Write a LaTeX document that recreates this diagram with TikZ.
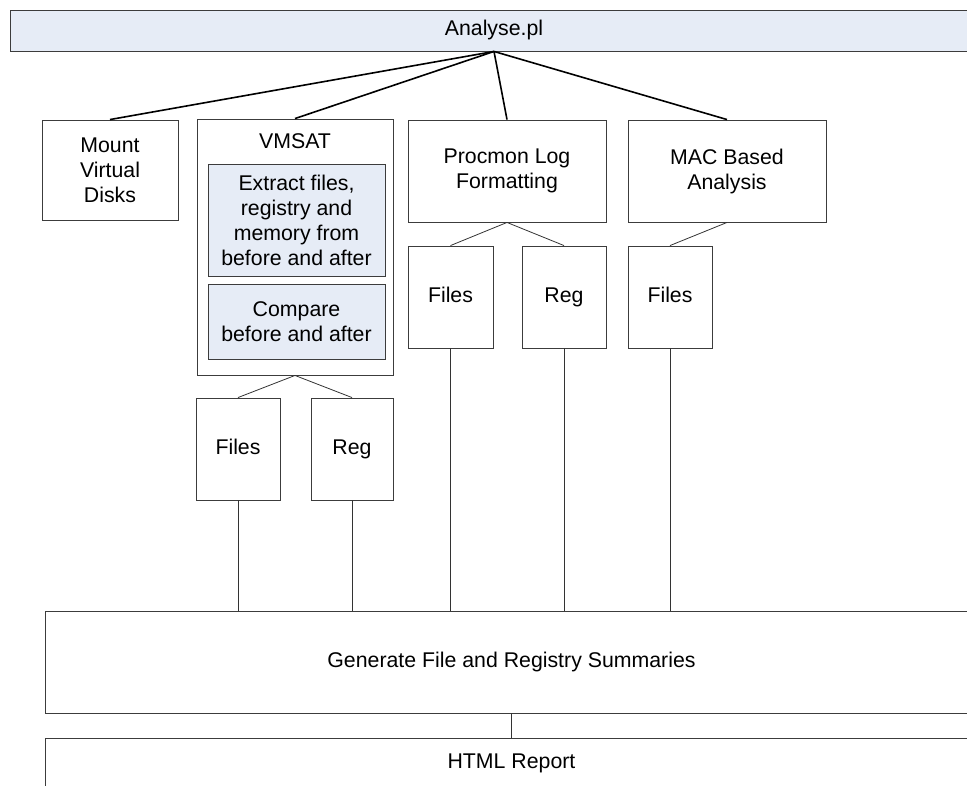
\documentclass[tikz,border=0pt]{standalone}
\usepackage{fontspec}
\setmainfont{Liberation Sans}
\definecolor{boxblue}{RGB}{230,236,246}
\definecolor{edge}{RGB}{60,60,60}
\begin{document}
\begin{tikzpicture}[x=1pt,y=-1pt,
  box/.style={draw=edge,line width=0.9pt,fill=white,inner sep=0pt,align=center,
    font=\fontsize{21.3}{25}\selectfont},
  bluebox/.style={box,fill=boxblue},
  oneline/.style={text height=15pt,text depth=4.5pt},
  thick link/.style={draw=black,line width=1.6pt},
  thin link/.style={draw=black!80,line width=0.8pt}]
\useasboundingbox (0,0) rectangle (967,785);
\clip (0,0) rectangle (967,785);

% main script bar
\node[bluebox,oneline,minimum width=968pt,minimum height=41pt] (top) at (494,30.5) {Analyse.pl};

% first-level tasks
\node[box,minimum width=136pt,minimum height=100pt] (mount) at (110,170) {Mount\\Virtual\\Disks};
\node[box,minimum width=196pt,minimum height=256pt] (vmsat) at (295,247) {};
\node[font=\fontsize{21.3}{25}\selectfont,oneline] (vmsatlbl) at (295,143) {VMSAT};
\node[bluebox,minimum width=177pt,minimum height=112pt] (extract) at (296.5,220)
  {Extract files,\\registry and\\memory from\\before and after};
\node[bluebox,minimum width=177pt,minimum height=75pt] (compare) at (296.5,321.5)
  {Compare\\before and after};
\node[box,minimum width=198pt,minimum height=102pt] (procmon) at (507,171) {Procmon Log\\Formatting};
\node[box,minimum width=198pt,minimum height=102pt] (mac) at (727,171) {MAC Based\\Analysis};

% outputs
\node[box,oneline,minimum width=84pt,minimum height=102pt] (vfiles) at (238,449) {Files};
\node[box,oneline,minimum width=82pt,minimum height=102pt] (vreg) at (352,449) {Reg};
\node[box,oneline,minimum width=85pt,minimum height=102pt] (pfiles) at (450.5,297) {Files};
\node[box,oneline,minimum width=84pt,minimum height=102pt] (preg) at (564,297) {Reg};
\node[box,oneline,minimum width=84pt,minimum height=102pt] (mfiles) at (670,297) {Files};

% summaries and report
\node[box,oneline,minimum width=933pt,minimum height=102pt] (gen) at (511.5,662) {Generate File and Registry Summaries};
\node[box,minimum width=933pt,minimum height=102pt] (html) at (511.5,789) {};
\node[font=\fontsize{21.3}{25}\selectfont,oneline] (htmllbl) at (511.5,763) {HTML Report};

% links from the main script
\draw[thick link] (top.south) -- (mount.north);
\draw[thick link] (top.south) -- (vmsat.north);
\draw[thick link] (top.south) -- (procmon.north);
\draw[thick link] (top.south) -- (mac.north);

% links to outputs
\draw[thin link] (vmsat.south) -- (vfiles.north);
\draw[thin link] (vmsat.south) -- (vreg.north);
\draw[thin link] (procmon.south) -- (pfiles.north);
\draw[thin link] (procmon.south) -- (preg.north);
\draw[thin link] (mac.south) -- (mfiles.north);

% outputs into the summaries
\foreach \n in {vfiles,vreg,pfiles,preg,mfiles}
  \draw[thin link] (\n.south) -- (\n.south |- gen.north);
\draw[thin link] (gen.south) -- (html.north);
\end{tikzpicture}
\end{document}
